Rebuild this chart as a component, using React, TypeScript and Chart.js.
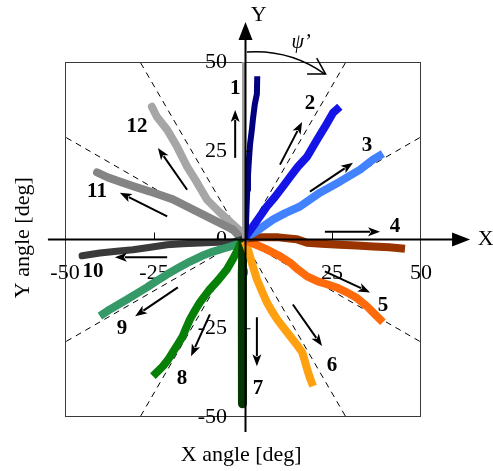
import { useEffect, useRef } from "react";
import { Chart, registerables } from "chart.js";

Chart.register(...registerables);

const FONT = '"Liberation Serif", "Times New Roman", serif';

// tick labels
const tickValues = [-50, -25, 0, 25, 50];
const xTickLabels = ["-50", "-25", "0", "25", "50"];
const yTickLabels = ["-50", "-25", "0", "25", "50"];

// trace names & colours
const traceNames = ["1", "2", "3", "4", "5", "6", "7", "8", "9", "10", "11", "12"];
const traceColors = [
  "#000080", "#1414e6", "#4282ff", "#993300", "#ff6a0a", "#ffa010",
  "#063806", "#078007", "#359a68", "#3a3a3a", "#848484", "#a6a6a6",
];
const traceWidths = [6, 8, 8, 8, 8, 8, 9, 8, 8, 7, 8, 8];

// traces (x angle, y angle) in degrees
const trace1 = [[0.5, 0], [0.8, 3], [1.0, 9], [1.2, 14], [1.4, 18], [1.7, 23], [2.0, 27], [2.5, 31], [2.8, 34], [3.3, 38], [3.9, 41], [4.0, 46]];
const trace2 = [[0.5, 0.5], [3, 4], [6.7, 9.3], [9, 12], [11.2, 14.9], [13.5, 18], [15.4, 20.5], [18, 23.3], [20.8, 28.1], [23, 31.7], [25.3, 35.7], [27.2, 37.4]];
const trace3 = [[0.5, 0.3], [4, 2.5], [8.4, 5.6], [12, 7.5], [16, 9.3], [21.6, 13.2], [27.2, 16.3], [32.9, 19.7], [36.5, 22.5], [39.3, 24.2]];
const trace4 = [[0.5, 0.3], [5, 0.6], [10, 0.6], [15, 0.1], [18, -0.9], [22, -1.2], [27.2, -1.5], [32, -1.7], [36.5, -2], [41, -2.2], [45.5, -2.6]];
const trace5 = [[0.5, -0.3], [3, -1.2], [6.7, -2.8], [10, -4.5], [13.2, -6.5], [15.5, -8.5], [18, -10.4], [21, -11.8], [23.6, -12.6], [26.5, -13.6], [29.2, -14.9], [32, -16.5], [34.8, -18.8], [37, -21], [39.3, -23.3]];
const trace6 = [[0.5, -0.5], [1.4, -2.8], [2.6, -7], [3.9, -11.2], [5.3, -14.5], [6.7, -17.7], [8, -20], [9.6, -22.5], [11.5, -25], [13.2, -27.2], [15, -29.5], [16.6, -31.7], [17.3, -34], [18, -36.5], [18.8, -39], [19.7, -41.3]];
const trace7 = [[0, 0], [-0.2, -10], [-0.1, -20], [-0.2, -30], [-0.1, -40], [-0.2, -46.3]];
const trace8 = [[-0.5, -0.5], [-1.4, -2.8], [-3, -5.8], [-4.5, -8.4], [-7, -11.5], [-9.3, -14], [-12.1, -17.7], [-13.5, -20], [-14.9, -22.5], [-16, -25], [-16.9, -27.2], [-18.3, -29.5], [-19.7, -31.7], [-21, -33.8], [-22.5, -35.7], [-25.3, -38.5]];
const trace9 = [[-0.5, -0.3], [-1.7, -1.4], [-5, -2.4], [-8.4, -3.4], [-11.5, -4.6], [-14.9, -6.2], [-18, -7.9], [-21.3, -9.8], [-24, -11.5], [-27, -13.5], [-30, -15.3], [-32.6, -16.9], [-35, -18.3], [-37.4, -19.7], [-40.2, -21.6]];
const trace10 = [[-0.5, 0], [-2.8, -0.7], [-7, -0.8], [-12.1, -1], [-17, -1.2], [-21.3, -1.5], [-26, -2.2], [-30.9, -2.9], [-35.5, -3.3], [-40.2, -3.8], [-45.2, -4.6]];
const trace11 = [[-0.5, 0.3], [-2.8, 2.8], [-8.4, 5.6], [-14, 8.4], [-19.7, 11.3], [-26.1, 13.5], [-30.5, 14.9], [-34.6, 16.3], [-38, 17.5], [-41, 18.9]];
const trace12 = [[-0.3, 2], [-2.8, 4.2], [-6.5, 7.6], [-10.1, 11.2], [-12.9, 16], [-15.7, 20.5], [-18.5, 26.1], [-21.3, 30.9], [-24.2, 34.6], [-25.6, 37.4]];
const traces = [trace1, trace2, trace3, trace4, trace5, trace6, trace7, trace8, trace9, trace10, trace11, trace12];

// dashed guide lines (sector boundaries every 30 deg), end points on the frame
const guideEnds = [[50, 28.9], [28.9, 50], [-28.9, 50], [-50, 28.9], [-50, -28.9], [-28.9, -50], [28.9, -50], [50, -28.9]];

// direction arrows (from -> to) and number label positions, in degrees
const arrowFrom = [[-2.2, 23], [10.4, 21.1], [18.8, 13.5], [23, 2.2], [23, -9], [14, -18.3], [3.9, -21.9], [-9.3, -21.1], [-18.3, -13.5], [-21.3, -5], [-21.3, 6.5], [-15.7, 14]];
const arrowTo = [[-2.2, 36.5], [16.6, 33.1], [30.9, 21.6], [38.5, 2.2], [35.7, -14.9], [22.2, -30], [3.9, -35.7], [-14.6, -32.9], [-30.3, -21.6], [-36, -5], [-34.6, 13.2], [-23.9, 25.8]];
const labelPos = [[-2.2, 42.5], [18.8, 38.4], [34.8, 26.5], [42.7, 3.6], [39.3, -18.6], [25, -35.5], [4.2, -42], [-17.1, -39.1], [-34, -25.2], [-42.1, -9.1], [-41, 13.4], [-29.8, 31.8]];

function drawArrow(ctx, x1, y1, x2, y2) {
  const ang = Math.atan2(y2 - y1, x2 - x1);
  const hl = 12;
  const hw = 4.5;
  const bx = x2 - hl * Math.cos(ang);
  const by = y2 - hl * Math.sin(ang);
  ctx.beginPath();
  ctx.moveTo(x1, y1);
  ctx.lineTo(bx + 2 * Math.cos(ang), by + 2 * Math.sin(ang));
  ctx.stroke();
  ctx.beginPath();
  ctx.moveTo(x2, y2);
  ctx.lineTo(bx + hw * Math.sin(ang), by - hw * Math.cos(ang));
  ctx.lineTo(bx + 3 * Math.cos(ang), by + 3 * Math.sin(ang));
  ctx.lineTo(bx - hw * Math.sin(ang), by + hw * Math.cos(ang));
  ctx.closePath();
  ctx.fill();
}

const framePlugin = {
  id: "frame",
  beforeDatasetsDraw(chart) {
    const { ctx, chartArea: a, scales } = chart;
    ctx.save();
    ctx.strokeStyle = "#3a3a3a";
    ctx.lineWidth = 1;
    ctx.strokeRect(a.left + 0.5, a.top + 0.5, a.right - a.left - 1, a.bottom - a.top - 1);
    // y tick labels, right-aligned just left of the vertical axis
    const ys = scales.y;
    const x0 = scales.x.getPixelForValue(0);
    ctx.fillStyle = "#000";
    ctx.font = "22px " + FONT;
    ctx.textAlign = "right";
    ctx.textBaseline = "middle";
    ys.ticks.forEach((t, i) => {
      ctx.fillText(yTickLabels[i], x0 - 16, ys.getPixelForValue(t.value));
    });
    ctx.restore();
  },
  afterDatasetsDraw(chart) {
    const { ctx, scales } = chart;
    const px = (v) => scales.x.getPixelForValue(v);
    const py = (v) => scales.y.getPixelForValue(v);
    ctx.save();

    // gray strip along positive y axis
    ctx.strokeStyle = "#a0a0a0";
    ctx.lineWidth = 3;
    ctx.beginPath();
    ctx.moveTo(px(0) + 0.5, py(0));
    ctx.lineTo(px(0) + 0.5, py(50));
    ctx.stroke();

    // main axes with arrow heads
    ctx.strokeStyle = "#000";
    ctx.fillStyle = "#000";
    ctx.lineWidth = 2;
    const ax = px(0) + 2.5;
    const ay = py(0);
    ctx.beginPath();
    ctx.moveTo(ax, py(-54.2));
    ctx.lineTo(ax, py(56.5));
    ctx.stroke();
    ctx.beginPath();
    ctx.moveTo(ax, py(61.3));
    ctx.lineTo(ax - 7, py(56.5) + 1);
    ctx.lineTo(ax + 7, py(56.5) + 1);
    ctx.closePath();
    ctx.fill();
    ctx.beginPath();
    ctx.moveTo(px(-54.8), ay);
    ctx.lineTo(px(59), ay);
    ctx.stroke();
    ctx.beginPath();
    ctx.moveTo(px(63.8), ay);
    ctx.lineTo(px(59) - 1, ay - 7);
    ctx.lineTo(px(59) - 1, ay + 7);
    ctx.closePath();
    ctx.fill();

    // small tick marks
    ctx.lineWidth = 1;
    [-25, 25].forEach((v) => {
      ctx.beginPath();
      ctx.moveTo(px(v) + 0.5, ay);
      ctx.lineTo(px(v) + 0.5, ay - 7);
      ctx.stroke();
      ctx.beginPath();
      ctx.moveTo(ax, py(v) + 0.5);
      ctx.lineTo(ax + 5, py(v) + 0.5);
      ctx.stroke();
    });

    // direction arrows
    ctx.lineWidth = 2;
    arrowFrom.forEach((f, i) => {
      const t = arrowTo[i];
      drawArrow(ctx, px(f[0]), py(f[1]), px(t[0]), py(t[1]));
    });

    // trace numbers
    ctx.font = "bold 21px " + FONT;
    ctx.textAlign = "center";
    ctx.textBaseline = "middle";
    labelPos.forEach((p, i) => {
      ctx.fillText(traceNames[i], px(p[0]), py(p[1]));
    });

    // psi' rotation arc
    ctx.lineWidth = 1.5;
    ctx.beginPath();
    ctx.moveTo(px(1.1), py(52.8));
    ctx.quadraticCurveTo(px(13.2), py(53.6), px(23), py(46.6));
    ctx.stroke();
    ctx.beginPath();
    ctx.moveTo(px(18), py(46.6));
    ctx.lineTo(px(23.2), py(46.6));
    ctx.lineTo(px(20.7), py(51.1));
    ctx.stroke();
    ctx.font = "italic 20px " + FONT;
    ctx.fillText("\u03c8\u2019", px(16.3), py(55.4));

    // axis letters
    ctx.font = "22px " + FONT;
    ctx.fillText("Y", px(4.4), py(63.3));
    ctx.fillText("X", px(68.2), py(0.2));

    // axis titles
    ctx.fillText("X angle [deg]", px(-0.5), py(-60.8));
    ctx.save();
    ctx.translate(px(-61.6), py(0.5));
    ctx.rotate(-Math.PI / 2);
    ctx.fillText("Y angle [deg]", 0, 0);
    ctx.restore();

    ctx.restore();
  },
};

export default function App() {
  const ref = useRef(null);
  useEffect(() => {
    const datasets = [];
    traces.forEach((tr, i) => {
      datasets.push({
        label: traceNames[i],
        data: tr.map((p) => ({ x: p[0], y: p[1] })),
        showLine: true,
        borderColor: traceColors[i],
        backgroundColor: traceColors[i],
        borderWidth: traceWidths[i],
        pointRadius: 0,
        borderJoinStyle: "round",
        borderCapStyle: i >= 9 ? "round" : "butt",
        order: 0,
      });
    });
    guideEnds.forEach((e) => {
      datasets.push({
        label: "guide",
        data: [{ x: 0, y: 0 }, { x: e[0], y: e[1] }],
        showLine: true,
        borderColor: "#000",
        borderWidth: 1,
        borderDash: [6, 5],
        pointRadius: 0,
        order: 1,
      });
    });
    const tickFont = { family: FONT, size: 22 };
    const chart = new Chart(ref.current, {
      type: "scatter",
      data: { datasets },
      options: {
        animation: false,
        responsive: false,
        events: [],
        layout: { padding: { left: 65, right: 72, top: 62, bottom: 54 } },
        plugins: { legend: { display: false }, tooltip: { enabled: false } },
        scales: {
          x: {
            type: "linear",
            min: -50,
            max: 50,
            position: { y: 0 },
            grid: { display: false },
            border: { display: false },
            afterBuildTicks: (s) => { s.ticks = tickValues.map((v) => ({ value: v })); },
            ticks: {
              autoSkip: false,
              maxRotation: 0,
              padding: 13,
              color: "#000",
              font: tickFont,
              callback: (v, i) => xTickLabels[i],
            },
          },
          y: {
            type: "linear",
            min: -50,
            max: 50,
            position: { x: 0 },
            grid: { display: false },
            border: { display: false },
            afterBuildTicks: (s) => { s.ticks = tickValues.map((v) => ({ value: v })); },
            ticks: {
              display: false,
              autoSkip: false,
            },
          },
        },
      },
      plugins: [framePlugin],
    });
    return () => chart.destroy();
  }, []);
  return (
    <div style={{ position: "absolute", left: 0, top: 0, width: 493, height: 471, background: "#fff" }}>
      <canvas ref={ref} width={493} height={471} style={{ width: 493, height: 471 }} />
    </div>
  );
}
